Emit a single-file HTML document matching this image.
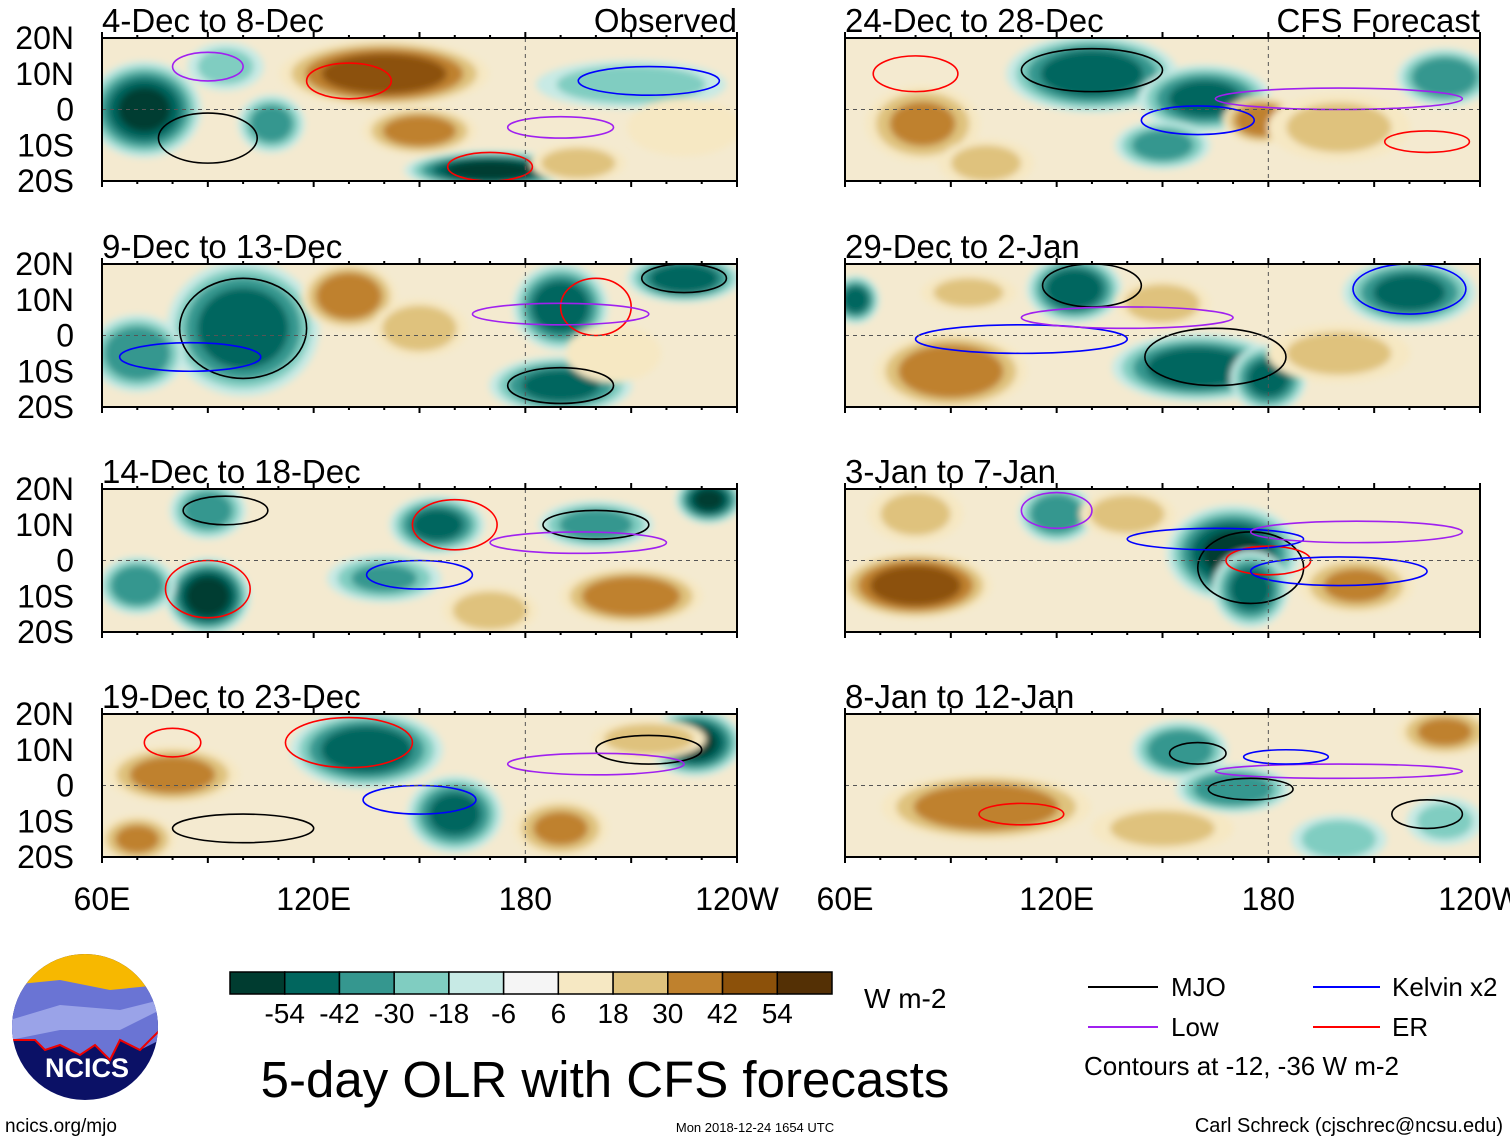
<!DOCTYPE html>
<html><head><meta charset="utf-8">
<style>
body{margin:0;background:#fff;font-family:"Liberation Sans",sans-serif;}
svg text{font-family:"Liberation Sans",sans-serif;}
</style></head>
<body>
<svg id="chart" width="1510" height="1142" viewBox="0 0 1510 1142">
<defs>
<filter id="blur" x="-30%" y="-30%" width="160%" height="160%"><feGaussianBlur stdDeviation="3.5"/></filter>
<clipPath id="logoclip"><circle cx="85" cy="1027" r="73"/></clipPath>
</defs>
<g id="panels"></g>
<g id="footer">
<g clip-path="url(#logoclip)">
<rect x="10" y="950" width="150" height="160" fill="#0b1166"/>
<rect x="10" y="950" width="150" height="40" fill="#f7b800"/>
<path d="M10 985 L60 980 L110 990 L160 985 L160 1040 L140 1050 L120 1040 L110 1060 L95 1045 L80 1055 L60 1045 L45 1050 L35 1040 L10 1040 Z" fill="#6a74d4"/>
<path d="M10 1020 L60 1005 L120 1010 L160 1000 L160 1010 L120 1030 L60 1030 L10 1040Z" fill="#9aa3e8"/>
<path d="M10 1040 L35 1040 L45 1050 L60 1045 L80 1055 L95 1045 L110 1060 L120 1040 L140 1050 L160 1030" fill="none" stroke="#e00" stroke-width="2"/>
<text x="87" y="1077" text-anchor="middle" font-size="27" font-weight="bold" fill="#fff">NCICS</text>
</g>
<text x="5" y="1132" font-size="19">ncics.org/mjo</text>
<g id="colorbar"></g>
<text x="864" y="1008" font-size="28">W m-2</text>
<text x="605" y="1097" font-size="51" text-anchor="middle">5-day OLR with CFS forecasts</text>
<text x="755" y="1132" font-size="13" text-anchor="middle">Mon 2018-12-24 1654 UTC</text>
<text x="1503" y="1132" font-size="20" text-anchor="end">Carl Schreck (cjschrec@ncsu.edu)</text>
<g>
<g><line x1="1088" y1="987" x2="1158" y2="987" stroke="#000" stroke-width="2"/><text x="1171" y="996" font-size="26">MJO</text></g>
<g><line x1="1313" y1="987" x2="1380" y2="987" stroke="#00f" stroke-width="2"/><text x="1392" y="996" font-size="26">Kelvin x2</text></g>
<g><line x1="1088" y1="1027" x2="1158" y2="1027" stroke="#a020f0" stroke-width="2"/><text x="1171" y="1036" font-size="26">Low</text></g>
<g><line x1="1313" y1="1027" x2="1380" y2="1027" stroke="#f00" stroke-width="2"/><text x="1392" y="1036" font-size="26">ER</text></g>
<text x="1084" y="1075" font-size="26">Contours at -12, -36 W m-2</text>
</g>
</g>
</svg>
<script>
const NS="http://www.w3.org/2000/svg";
const colors=["#003c30","#01665e","#35978f","#80cdc1","#c7eae5","#f5f5f5","#f6e8c3","#dfc27d","#bf812d","#8c510a","#543005"];
const cbLabels=["-54","-42","-30","-18","-6","6","18","30","42","54"];
const latTicks=["20N","10N","0","10S","20S"];
const latVals=[20,10,0,-10,-20];
const lonTicks=["60E","120E","180","120W"];
const lonVals=[60,120,180,240];
const titlesLeft=["4-Dec to 8-Dec","9-Dec to 13-Dec","14-Dec to 18-Dec","19-Dec to 23-Dec"];
const titlesRight=["24-Dec to 28-Dec","29-Dec to 2-Jan","3-Jan to 7-Jan","8-Jan to 12-Jan"];
// blobs: [lon, lat, rxDeg, ryDeg, value W/m2]
const blobs=[
[[140,10,22,7,50],[150,-6,12,5,35],[72,0,12,10,-55],[108,-4,7,6,-35],[170,-17,18,4,-60],[210,7,20,5,-25],[95,12,8,5,-20],[195,-15,10,4,25],[225,-5,12,6,15]],
[[100,2,16,14,-50],[70,-5,10,8,-40],[130,11,10,7,40],[190,8,10,9,-50],[225,16,12,5,-50],[190,-14,15,6,-45],[150,2,10,6,25],[205,-5,10,6,15]],
[[90,-10,9,8,-60],[70,-7,8,6,-40],[90,14,8,6,-35],[155,10,10,6,-45],[200,10,12,5,-35],[232,17,7,5,-55],[210,-10,15,6,40],[140,-5,12,5,-30],[170,-14,10,5,25]],
[[80,3,14,6,35],[135,10,16,8,-50],[228,12,10,7,-55],[160,-8,10,8,-45],[190,-12,10,6,30],[215,13,12,4,25],[70,-15,8,5,30]],
[[82,-4,12,8,30],[130,10,18,8,-50],[162,3,14,7,-45],[178,-3,8,5,40],[150,-10,10,5,-35],[230,9,10,6,-40],[200,-5,15,7,20],[100,-15,10,5,20]],
[[63,10,5,5,-45],[125,13,10,7,-50],[160,-9,18,7,-50],[180,-12,8,7,-45],[220,12,14,7,-45],[90,-10,16,8,40],[150,9,10,5,25],[95,12,10,4,20],[200,-5,15,6,20]],
[[80,-7,16,7,50],[120,13,8,6,-40],[170,2,14,10,-55],[175,-8,8,8,-45],[140,13,10,5,25],[205,-7,12,6,30],[80,13,10,6,20]],
[[100,-6,22,7,40],[155,10,10,6,-40],[170,-1,12,5,-40],[230,15,10,5,30],[200,-15,10,5,-25],[150,-12,15,5,20],[230,-10,8,5,-20]]
];
// contours: [lon, lat, rxDeg, ryDeg, type]
const contours=[
[[90,-8,14,7,"k"],[130,8,12,5,"r"],[215,8,20,4,"b"],[190,-5,15,3,"p"],[170,-16,12,4,"r"],[90,12,10,4,"p"]],
[[100,2,18,14,"k"],[200,8,10,8,"r"],[190,6,25,3,"p"],[225,16,12,4,"k"],[190,-14,15,5,"k"],[85,-6,20,4,"b"]],
[[90,-8,12,8,"r"],[150,-4,15,4,"b"],[200,10,15,4,"k"],[195,5,25,3,"p"],[160,10,12,7,"r"],[95,14,12,4,"k"]],
[[130,12,18,7,"r"],[150,-4,16,4,"b"],[215,10,15,4,"k"],[200,6,25,3,"p"],[100,-12,20,4,"k"],[80,12,8,4,"r"]],
[[130,11,20,6,"k"],[80,10,12,5,"r"],[200,3,35,3,"p"],[160,-3,16,4,"b"],[225,-9,12,3,"r"]],
[[130,14,14,6,"k"],[110,-1,30,4,"b"],[165,-6,20,8,"k"],[220,13,16,7,"b"],[140,5,30,3,"p"]],
[[175,-2,15,10,"k"],[180,0,12,4,"r"],[165,6,25,3,"b"],[200,-3,25,4,"b"],[205,8,30,3,"p"],[120,14,10,5,"p"]],
[[160,9,8,3,"k"],[175,-1,12,3,"k"],[200,4,35,2,"p"],[110,-8,12,3,"r"],[185,8,12,2,"b"],[225,-8,10,4,"k"]]
];
const lineCol={k:"#000",r:"#f00",b:"#00f",p:"#a020f0"};
const SCALE=1.35;
function colorFor(v){let i=Math.floor((v+66)/12);return colors[Math.max(0,Math.min(10,i))];}
const panelsG=document.getElementById("panels");
const PW=635,PH=143;
const rowsY=[38,264,489,714];
const colsX=[102,845];
function mk(tag,attrs,parent){const e=document.createElementNS(NS,tag);for(const k in attrs)e.setAttribute(k,attrs[k]);parent.appendChild(e);return e;}
for(let c=0;c<2;c++)for(let r=0;r<4;r++){
  const x0=colsX[c],y0=rowsY[r],idx=c*4+r;
  const xs=lon=>x0+(lon-60)/180*PW, ys=lat=>y0+(20-lat)/40*PH;
  const g=mk("g",{},panelsG);
  
  
  const cid="clip"+idx;
  const cp=mk("clipPath",{id:cid},g);mk("rect",{x:x0,y:y0,width:PW,height:PH},cp);
  const inner=mk("g",{"clip-path":"url(#"+cid+")"},g);
  mk("rect",{x:x0,y:y0,width:PW,height:PH,fill:"#f4ead0"},inner);
  const bg=mk("g",{filter:"url(#blur)"},inner);
  blobs[idx].forEach(b=>{
    const [lon,lat,rx,ry,v]=b;const a=Math.abs(v),s=Math.sign(v);
    for(let lev=6;lev<=a;lev+=12){
      const f=SCALE*Math.sqrt(1-(lev-6)/(a+6));
      const e=mk("ellipse",{cx:xs(lon),cy:ys(lat),rx:rx*f*PW/180,ry:ry*f*PH/40,fill:colorFor(s*(lev+6))},bg);
      
      
    }
  });
  contours[idx].forEach(ct=>{
    const [lon,lat,rx,ry,t]=ct;
    const e=mk("ellipse",{cx:xs(lon),cy:ys(lat),rx:rx*PW/180,ry:ry*PH/40,fill:"none",stroke:lineCol[t],"stroke-width":1.6},inner);
    
    
  });
  mk("line",{x1:x0,y1:ys(0),x2:x0+PW,y2:ys(0),stroke:"#555","stroke-dasharray":"4,4","stroke-width":1},inner);
  mk("line",{x1:xs(180),y1:y0,x2:xs(180),y2:y0+PH,stroke:"#555","stroke-dasharray":"4,4","stroke-width":1},inner);
  const fr=mk("rect",{x:x0,y:y0,width:PW,height:PH,fill:"none",stroke:"#000","stroke-width":2},g);
  
  
  for(let lon=60;lon<=240;lon+=10){mk("line",{x1:xs(lon),y1:y0,x2:xs(lon),y2:y0-(lon%30?3:6),stroke:"#000","stroke-width":2},g);mk("line",{x1:xs(lon),y1:y0+PH,x2:xs(lon),y2:y0+PH+(lon%30?3:6),stroke:"#000","stroke-width":2},g);}
  const t=mk("text",{x:x0,y:y0-6,"font-size":33},g);t.textContent=(c?titlesRight:titlesLeft)[r];
  
  
  if(r===0){const t2=mk("text",{x:x0+PW,y:y0-6,"font-size":33,"text-anchor":"end"},g);t2.textContent=c?"CFS Forecast":"Observed";
    
    }
  if(c===0){latVals.forEach((lv,i)=>{const tt=mk("text",{x:74,y:ys(lv)+11,"font-size":32,"text-anchor":"end"},g);tt.textContent=latTicks[i];
    
    });}
  if(r===3){lonVals.forEach((lv,i)=>{const tt=mk("text",{x:xs(lv),y:910,"font-size":32,"text-anchor":"middle"},g);tt.textContent=lonTicks[i];
    
    });}
}
const cb=document.getElementById("colorbar");
const cbx=230,cbw=602/11;
colors.forEach((col,i)=>{const rr=mk("rect",{x:cbx+i*cbw,y:972,width:cbw,height:22,fill:col,stroke:"#000","stroke-width":1.5},cb);
  
  });
cbLabels.forEach((l,i)=>{const tt=mk("text",{x:cbx+(i+1)*cbw,y:1023,"font-size":28,"text-anchor":"middle"},cb);tt.textContent=l;
  
  });
</script>
</body></html>
